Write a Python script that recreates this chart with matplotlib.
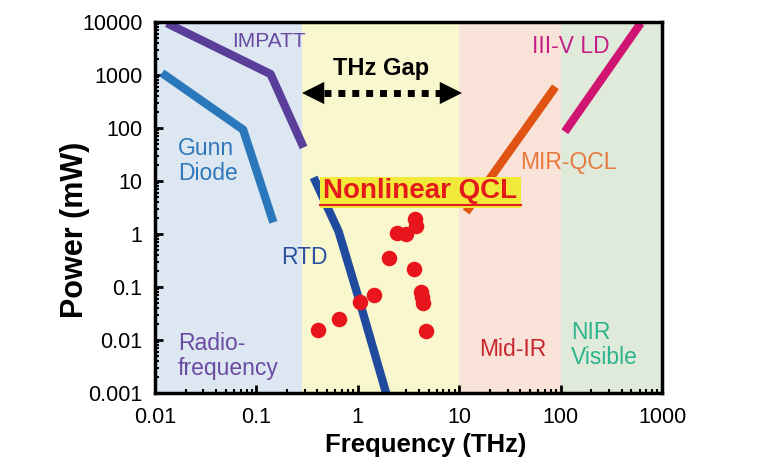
import numpy as np
import matplotlib
matplotlib.use('Agg')
import matplotlib.pyplot as plt

plt.rcParams['font.family'] = ['Liberation Sans', 'DejaVu Sans']

# device curves (THz, mW)
impatt_f = [0.0131, 0.138, 0.292]
impatt_p = [9500, 1040, 43]
gunn_f = [0.0117, 0.074, 0.147]
gunn_p = [1090, 93, 1.66]
rtd_f = [0.367, 0.646, 1.07, 1.9]
rtd_p = [11.7, 1.12, 0.045, 0.001]
mirqcl_f = [11.7, 89]
mirqcl_p = [2.6, 600]
ld_f = [110, 617]
ld_p = [85, 9500]

# nonlinear QCL points
nl_f = [0.405, 0.653, 1.05, 1.43, 2.04, 2.46, 2.98, 3.66, 3.75, 3.55, 4.2, 4.3, 4.36, 4.7]
nl_p = [0.0153, 0.0251, 0.052, 0.071, 0.355, 1.04, 1.0, 1.96, 1.39, 0.22, 0.08, 0.065, 0.05, 0.015]

# spectral bands
band_edges = [0.01, 0.28, 10, 100, 1000]
band_colors = ['#dce7f2', '#f8f7cd', '#f9e3d8', '#e0eadb']

xticks = [0.01, 0.1, 1, 10, 100, 1000]
xtick_labels = ['0.01', '0.1', '1', '10', '100', '1000']
yticks = [0.001, 0.01, 0.1, 1, 10, 100, 1000, 10000]
ytick_labels = ['0.001', '0.01', '0.1', '1', '10', '100', '1000', '10000']

fig = plt.figure(figsize=(7.68, 4.61), dpi=100)
ax = fig.add_axes([155/768, 1-393/461, 507/768, 371/461])

for i in range(len(band_colors)):
    ax.axvspan(band_edges[i], band_edges[i+1], color=band_colors[i], lw=0, zorder=0)

lw = 6
ax.plot(impatt_f, impatt_p, color='#5a3f9a', lw=lw, solid_capstyle='butt', zorder=2)
ax.plot(gunn_f, gunn_p, color='#2b77bb', lw=lw, solid_capstyle='butt', zorder=2)
ax.plot(rtd_f, rtd_p, color='#1f4a9e', lw=lw, solid_capstyle='butt', zorder=2)
ax.plot(mirqcl_f, mirqcl_p, color='#e05312', lw=lw, solid_capstyle='butt', zorder=2)
ax.plot(ld_f, ld_p, color='#d01472', lw=lw, solid_capstyle='butt', zorder=2)
ax.scatter(nl_f, nl_p, s=125, color='#e8161c', lw=0, zorder=3)

ax.set_xscale('log')
ax.set_yscale('log')
ax.set_xlim(0.01, 1000)
ax.set_ylim(0.001, 10000)
ax.set_xticks(xticks)
ax.set_xticklabels(xtick_labels)
ax.set_yticks(yticks)
ax.set_yticklabels(ytick_labels)
ax.tick_params(which='major', direction='in', length=6, width=2, labelsize=15.5)
ax.tick_params(axis='x', which='major', pad=10)
ax.tick_params(axis='y', which='major', pad=9)
ax.tick_params(which='minor', direction='in', length=3, width=1.5)
ax.tick_params(top=False, right=False)
for s in ax.spines.values():
    s.set_linewidth(2.5)

ax.set_xlabel('Frequency (THz)', fontsize=18.5, fontweight='bold')
ax.set_ylabel('Power (mW)', fontsize=22, fontweight='bold')
ax.xaxis.set_label_coords(0.534, -0.107)
ax.yaxis.set_label_coords(-0.128, 0.439)

def px(x, y):
    return ((x - 155) / 507, (393 - y) / 371)

def label(x, y, s, c, ha='center', size=16.5, **kw):
    fx, fy = px(x, y)
    ax.text(fx, fy, s, color=c, ha=ha, va='center', transform=ax.transAxes,
            fontsize=size, linespacing=1.15, **kw)

label(269, 42, 'IMPATT', '#6a4aa2', size=15)
label(178, 161, 'Gunn\nDiode', '#2e78bb', ha='left')
label(304, 257, 'RTD', '#2c50a0')
label(178, 356, 'Radio-\nfrequency', '#6a4aa2', ha='left')
label(513, 350, 'Mid-IR', '#c8262e')
label(571, 345, 'NIR\nVisible', '#2db48c', ha='left')
label(568, 163, 'MIR-QCL', '#e8793c')
label(571, 47, 'III-V LD', '#c41e86')
label(381, 69, 'THz Gap', 'black', size=17, fontweight='bold')

# Nonlinear QCL label: yellow box, red bold underlined text
bx0, by0 = px(320, 208)
bx1, by1 = px(521, 177)
ax.add_patch(plt.Rectangle((bx0, by0), bx1 - bx0, by1 - by0, transform=ax.transAxes,
                           fc='#f2ea3a', ec='none', zorder=4))
fx, fy = px(420, 191)
ax.text(fx, fy, 'Nonlinear QCL', color='#e3191c', ha='center', va='center',
        transform=ax.transAxes, fontsize=20, fontweight='bold', zorder=5)
ux0, uy = px(320, 205)
ux1, _ = px(521, 205)
ax.plot([ux0, ux1], [uy, uy], color='#e3191c', lw=1.5, transform=ax.transAxes, zorder=5)

# THz gap arrow
x0, y0 = px(302, 93)
x1, _ = px(462, 93)
d0, _ = px(324, 93)
d1, _ = px(443, 93)
ax.plot([d0, d1], [y0, y0], color='black', lw=5, ls=(0, (1, 1)),
        transform=ax.transAxes, zorder=3)
for xa, xb in [(x0, x0 + 0.05), (x1, x1 - 0.05)]:
    ax.annotate('', xy=(xa, y0), xytext=(xb, y0), xycoords='axes fraction',
                arrowprops=dict(arrowstyle='-|>,head_length=0.8,head_width=0.4',
                                mutation_scale=20, color='black', lw=0,
                                shrinkA=0, shrinkB=0))

fig.savefig('out.png', dpi=100)
